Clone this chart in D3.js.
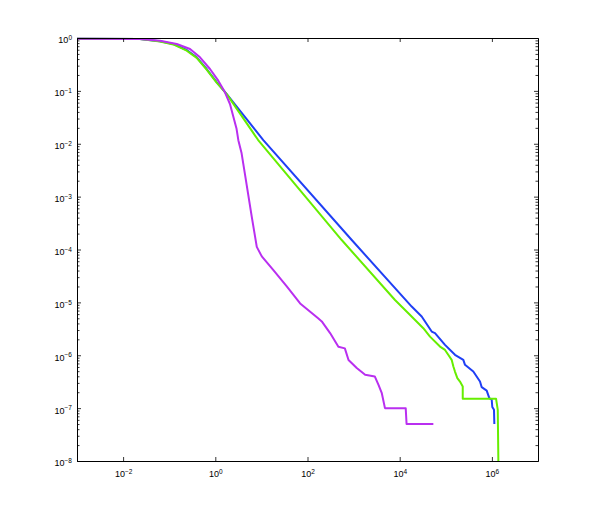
<!DOCTYPE html>
<html>
<head>
    <meta charset="utf-8">
    <style>
        body { margin: 0; background: white; }
        svg { display: block; }
        .tick text { font-family: 'Liberation Sans', Arial, Helvetica, sans-serif; font-size: 9px; fill: black; }
    </style>
</head>
<body>
    <svg width="593" height="519" id="chart"></svg>

<script src="https://d3js.org/d3.v7.min.js"></script>
<script>
    // values, as [x, P(X >= x)]
    let blueSeries = [
        [1e-3, 0.97], [0.0233, 0.957], [0.0631, 0.867], [0.123, 0.771], [0.240, 0.593],
        [0.395, 0.432], [0.650, 0.259], [1.07, 0.146], [1.77, 0.087], [11.0, 0.01175],
        [912, 1.51e-4], [18200, 8.33e-6], [30000, 5.40e-6], [49400, 2.81e-6],
        [58300, 2.62e-6], [96100, 1.57e-6], [158000, 1.02e-6], [240000, 8.19e-7],
        [261000, 6.59e-7], [395000, 4.92e-7], [552000, 3.18e-7], [601000, 2.49e-7],
        [771000, 2.15e-7], [879000, 1.55e-7], [991000, 1.44e-7], [1020000, 1.05e-7],
        [1110000, 9.29e-8], [1130000, 4.99e-8]
    ]
    let greenSeries = [
        [1e-3, 0.97], [0.0233, 0.955], [0.0631, 0.86], [0.123, 0.755], [0.240, 0.575],
        [0.395, 0.42], [0.650, 0.253], [1.07, 0.143], [1.77, 0.087], [8.51, 0.01175],
        [552, 1.51e-4], [7910, 1.11e-5], [15400, 6.25e-6], [32500, 3.25e-6],
        [45400, 2.25e-6], [74800, 1.46e-6], [96100, 1.26e-6], [113000, 1.02e-6],
        [134000, 8.19e-7], [146000, 6.11e-7], [158000, 4.92e-7], [178000, 3.69e-7],
        [203000, 3.18e-7], [233000, 2.56e-7], [233000, 1.51e-7], [1230000, 1.51e-7],
        [1340000, 9.29e-8], [1380000, 1.1e-8], [1390000, 1e-9]
    ]
    let magentaSeries = [
        [1e-3, 0.97], [0.0233, 0.96], [0.0631, 0.889], [0.146, 0.771], [0.283, 0.619],
        [0.466, 0.432], [0.767, 0.259], [1.16, 0.156], [1.62, 0.094], [2.08, 0.0565],
        [2.88, 0.0195], [3.16, 0.0117], [3.72, 0.0066], [4.37, 2.75e-3], [6.17, 4.17e-4],
        [7.94, 1.12e-4], [10.2, 7.41e-5], [18.2, 4.07e-5], [35.5, 2.0e-5], [69.2, 9.55e-6],
        [170, 5.01e-6], [204, 4.37e-6], [309, 2.63e-6], [468, 1.45e-6], [646, 1.35e-6],
        [776, 8.13e-7], [1170, 5.75e-7], [1780, 4.27e-7], [2880, 3.98e-7],
        [3470, 2.75e-7], [4070, 1.95e-7], [4790, 1e-7], [13500, 1e-7], [14100, 5e-8],
        [53700, 5e-8]
    ]

    let seriesList = [
        { name: "blue", color: "#1f3ff5", data: blueSeries },
        { name: "green", color: "#66ee00", data: greenSeries },
        { name: "magenta", color: "#b92ff0", data: magentaSeries }
    ]

    let xDomain = [1e-3, 1e7]
    let yDomain = [1e-8, 1]
    let xTickExps = [-2, 0, 2, 4, 6]
    let yTickExps = [0, -1, -2, -3, -4, -5, -6, -7, -8]

    let plotLeft = 77, plotRight = 538, plotTop = 38, plotBottom = 461

    let svg = d3.select("#chart")

    let x = d3.scaleLog().domain(xDomain).range([plotLeft, plotRight])
    let y = d3.scaleLog().domain(yDomain).range([plotBottom, plotTop])

    let yMinor = []
    for (let e = -8; e < 0; e++) {
        for (let m = 2; m <= 9; m++) yMinor.push(m * Math.pow(10, e))
    }

    svg.append("clipPath").attr("id", "clip")
        .append("rect")
        .attr("x", plotLeft).attr("y", plotTop - 2)
        .attr("width", plotRight - plotLeft).attr("height", plotBottom - plotTop + 2)

    let line = d3.line()
        .x(d => x(d[0]))
        .y(d => y(d[1]))

    svg.append("g")
        .attr("clip-path", "url(#clip)")
        .selectAll("path")
        .data(seriesList)
        .join("path")
        .attr("d", d => line(d.data))
        .attr("fill", "none")
        .attr("stroke", d => d.color)
        .attr("stroke-width", 2)
        .attr("stroke-linejoin", "round")

    function supLabel(sel, exps, dy) {
        sel.selectAll(".tick text").attr("dy", dy).each(function (d, i) {
            let t = d3.select(this).text("")
            t.append("tspan").text("10")
            t.append("tspan").attr("dy", "-0.5em").attr("font-size", "6.5px")
                .text(String(exps[i]).replace("-", "\u2212"))
        })
    }

    // bottom + top
    let gb = svg.append("g").attr("transform", `translate(0,${plotBottom})`)
        .call(d3.axisBottom(x).tickValues(xTickExps.map(e => Math.pow(10, e)))
            .tickSize(-4).tickSizeOuter(0).tickPadding(10).tickFormat(""))
    supLabel(gb, xTickExps, "0.71em")
    svg.append("g").attr("transform", `translate(0,${plotTop})`)
        .call(d3.axisTop(x).tickValues(xTickExps.map(e => Math.pow(10, e)))
            .tickSize(-4).tickSizeOuter(0).tickFormat(""))

    // left + right
    let gl = svg.append("g").attr("transform", `translate(${plotLeft},0)`)
        .call(d3.axisLeft(y).tickValues(yTickExps.map(e => Math.pow(10, e)))
            .tickSize(-4).tickSizeOuter(0).tickPadding(5).tickFormat(""))
    supLabel(gl, yTickExps, "0.55em")
    svg.append("g").attr("transform", `translate(${plotLeft},0)`)
        .call(d3.axisLeft(y).tickValues(yMinor).tickSize(-2.5).tickSizeOuter(0).tickFormat(""))
    svg.append("g").attr("transform", `translate(${plotRight},0)`)
        .call(d3.axisRight(y).tickValues(yTickExps.map(e => Math.pow(10, e)))
            .tickSize(-4).tickSizeOuter(0).tickFormat(""))
    svg.append("g").attr("transform", `translate(${plotRight},0)`)
        .call(d3.axisRight(y).tickValues(yMinor).tickSize(-2.5).tickSizeOuter(0).tickFormat(""))

    svg.selectAll(".domain").attr("stroke", "black")
    svg.selectAll(".tick line").attr("stroke", "black").attr("stroke-width", 0.8)
</script>
</body>
</html>
